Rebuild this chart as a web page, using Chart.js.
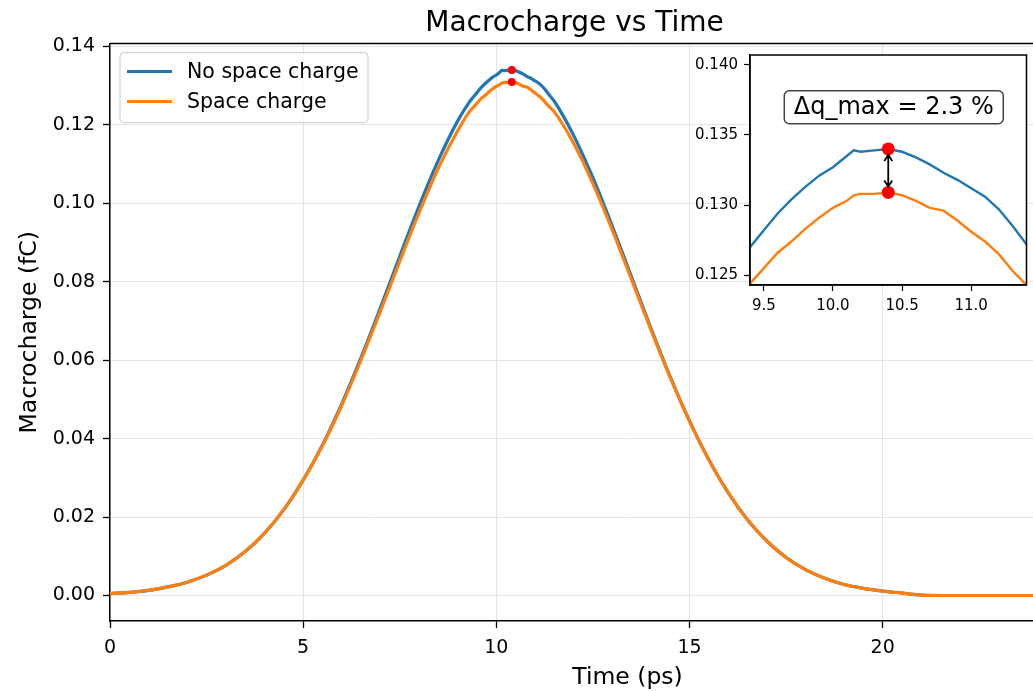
<!DOCTYPE html>
<html><head><meta charset="utf-8">
<script src="https://cdn.jsdelivr.net/npm/chart.js@4.4.1/dist/chart.umd.min.js"></script>
<style>
html,body{margin:0;padding:0;overflow:hidden;background:#fff;width:1033px;height:691px}
#main{position:absolute;left:0;top:0}
#inset{position:absolute;left:660px;top:40px}
</style></head><body>
<canvas id="main" width="1149" height="691"></canvas>
<canvas id="inset" width="373" height="300"></canvas>
<script>
// ---- data ----
const timePs = [0, 0.5, 1, 1.5, 2, 2.5, 3, 3.5, 4, 4.5, 5, 5.5, 6, 6.5, 7, 7.5, 8, 8.5, 9,
  9.3, 9.4, 9.5, 9.6, 9.7, 9.8, 9.9, 10.0, 10.1, 10.15, 10.2, 10.3, 10.4, 10.5, 10.6, 10.7, 10.8, 10.9, 11.0, 11.1, 11.2, 11.3, 11.4, 11.5,
  12, 12.5, 13, 13.5, 14, 14.5, 15, 15.5, 16, 16.5, 17, 17.5, 18, 18.5, 19, 19.5, 20, 20.5, 21, 21.5, 22, 23, 24];
const qNoSpaceCharge = [0.0005, 0.0008, 0.0013, 0.0022, 0.0034, 0.0052, 0.0077, 0.0112, 0.0159, 0.0219, 0.0294, 0.0384, 0.0489, 0.0607, 0.0734, 0.0865, 0.0993, 0.1110, 0.1210,
  0.1258, 0.1270, 0.1282, 0.1294, 0.1304, 0.1313, 0.1321, 0.1327, 0.1335, 0.1339, 0.1338, 0.1339, 0.1340, 0.1338, 0.1334, 0.1329, 0.1323, 0.1318, 0.1312, 0.1306, 0.1297, 0.1285, 0.1272, 0.1260,
  0.1173, 0.1065, 0.0942, 0.0812, 0.0682, 0.0558, 0.0445, 0.0346, 0.0262, 0.0193, 0.0139, 0.0097, 0.0066, 0.0044, 0.0028, 0.0018, 0.0011, 0.0006, 0.0001, 0, 0, 0, 0];
const qSpaceCharge = [0.0005, 0.0008, 0.0013, 0.0022, 0.0034, 0.0052, 0.0077, 0.0112, 0.0159, 0.0219, 0.0294, 0.0382, 0.0485, 0.0601, 0.0725, 0.0852, 0.0976, 0.1090, 0.1185,
  0.1233, 0.1244, 0.1255, 0.1266, 0.1274, 0.1283, 0.1291, 0.1298, 0.1303, 0.1307, 0.1308, 0.1308, 0.1309, 0.1307, 0.1303, 0.1298, 0.1296, 0.1289, 0.1281, 0.1274, 0.1265, 0.1253, 0.1243, 0.1233,
  0.1153, 0.1050, 0.0932, 0.0805, 0.0678, 0.0556, 0.0444, 0.0346, 0.0262, 0.0193, 0.0139, 0.0097, 0.0066, 0.0044, 0.0028, 0.0018, 0.0011, 0.0006, 0.0001, 0, 0, 0, 0];
const seriesLabels = ['No space charge', 'Space charge'];
const peakTime = [10.4];
const peakNoSpaceCharge = [0.1340];
const peakSpaceCharge = [0.1309];
const mainXTicks = [0, 5, 10, 15, 20, 25];
const mainYTicks = [0, 0.02, 0.04, 0.06, 0.08, 0.10, 0.12, 0.14];
const insetXTicks = [9.5, 10.0, 10.5, 11.0];
const insetYTicks = [0.125, 0.130, 0.135, 0.140];

// ---- styling ----
const BLUE = '#1f77b4', ORANGE = '#ff7f0e', RED = '#ff0000';
const FONT = "'DejaVu Sans', sans-serif";
const pts = (xs, ys) => xs.map((t, i) => ({x: t, y: ys[i]}));
const deltaPct = (peakNoSpaceCharge[0] - peakSpaceCharge[0]) / peakNoSpaceCharge[0] * 100;

const topSpine = {
  id: 'topSpine',
  afterDraw(chart, args, opts) {
    const {ctx, chartArea: a} = chart;
    ctx.save();
    ctx.strokeStyle = '#000';
    ctx.lineWidth = opts.width || 1.5;
    ctx.beginPath();
    ctx.moveTo(a.left, a.top); ctx.lineTo(a.right, a.top);
    ctx.stroke();
    ctx.restore();
  }
};

const boxLegend = {
  id: 'boxLegend',
  afterDraw(chart) {
    const {ctx, chartArea: a} = chart;
    const x0 = a.left + 10, y0 = a.top + 9, w = 248, h = 70;
    ctx.save();
    ctx.beginPath();
    ctx.roundRect(x0, y0, w, h, 4);
    ctx.fillStyle = 'rgba(255,255,255,0.8)';
    ctx.fill();
    ctx.strokeStyle = '#cccccc';
    ctx.lineWidth = 1;
    ctx.stroke();
    const colors = [BLUE, ORANGE];
    ctx.font = "20.5px " + FONT;
    ctx.textBaseline = 'middle';
    ctx.fillStyle = '#000';
    seriesLabels.forEach((lab, i) => {
      const y = y0 + 19 + i * 30;
      ctx.strokeStyle = colors[i];
      ctx.lineWidth = 3;
      ctx.beginPath();
      ctx.moveTo(x0 + 7, y); ctx.lineTo(x0 + 52, y);
      ctx.stroke();
      ctx.fillText(lab, x0 + 67, y + 1);
    });
    ctx.restore();
  }
};

new Chart(document.getElementById('main'), {
  type: 'line',
  data: {
    datasets: [
      {label: 'peaks', data: [{x: peakTime[0], y: peakNoSpaceCharge[0]}, {x: peakTime[0], y: peakSpaceCharge[0]}],
        showLine: false, pointRadius: 4, pointBackgroundColor: RED, pointBorderWidth: 0, order: 1},
      {label: seriesLabels[1], data: pts(timePs, qSpaceCharge), borderColor: ORANGE, borderWidth: 3.2,
        pointRadius: 0, cubicInterpolationMode: 'monotone', order: 2},
      {label: seriesLabels[0], data: pts(timePs, qNoSpaceCharge), borderColor: BLUE, borderWidth: 3.2,
        pointRadius: 0, cubicInterpolationMode: 'monotone', order: 3}
    ]
  },
  options: {
    responsive: false, animation: false, devicePixelRatio: 1,
    layout: {padding: 0},
    plugins: {
      legend: {display: false}, tooltip: {enabled: false},
      title: {display: true, text: 'Macrocharge vs Time', color: '#000',
        font: {family: FONT, size: 28, weight: 'normal', lineHeight: 1.2}, padding: {top: 7, bottom: 3}},
      topSpine: {width: 1.5}
    },
    scales: {
      x: {type: 'linear', min: 0, max: 26.79,
        afterBuildTicks: s => { s.ticks = mainXTicks.map(v => ({value: v})); },
        afterFit: s => { s.height = 70; },
        ticks: {color: '#000', font: {family: FONT, size: 19}, padding: 9, maxRotation: 0, callback: v => String(v)},
        grid: {color: '#e4e4e4', lineWidth: 1, tickColor: '#000', tickLength: 7, tickWidth: 1.3},
        border: {display: true, color: '#000', width: 1.5},
        title: {display: true, text: 'Time (ps)', color: '#000', font: {family: FONT, size: 23.5}, padding: {top: 0, bottom: -1}}
      },
      y: {type: 'linear', min: -0.0065, max: 0.1407,
        afterBuildTicks: s => { s.ticks = mainYTicks.map(v => ({value: v})); },
        afterFit: s => { s.width = 110; },
        ticks: {color: '#000', font: {family: FONT, size: 19}, padding: 8, callback: v => v.toFixed(2)},
        grid: {color: '#e4e4e4', lineWidth: 1, tickColor: '#000', tickLength: 7, tickWidth: 1.3},
        border: {display: true, color: '#000', width: 1.5},
        title: {display: true, text: 'Macrocharge (fC)', color: '#000', font: {family: FONT, size: 23.5}, padding: {top: 16, bottom: 0}}
      }
    }
  },
  plugins: [topSpine, boxLegend]
});

const insetDecor = {
  id: 'insetDecor',
  beforeDraw(chart) {
    const {ctx, chartArea: a} = chart;
    ctx.save();
    ctx.fillStyle = '#fff';
    ctx.fillRect(a.left, a.top, a.right - a.left, a.bottom - a.top);
    ctx.restore();
  },
  afterDatasetsDraw(chart) {
    const {ctx, scales: {x, y}} = chart;
    const px = x.getPixelForValue(peakTime[0]);
    const y1 = y.getPixelForValue(peakNoSpaceCharge[0]) + 6;
    const y2 = y.getPixelForValue(peakSpaceCharge[0]) - 6;
    ctx.save();
    ctx.strokeStyle = '#000';
    ctx.lineWidth = 1.8;
    ctx.beginPath();
    ctx.moveTo(px, y1); ctx.lineTo(px, y2);
    ctx.moveTo(px - 4, y1 + 6); ctx.lineTo(px, y1); ctx.lineTo(px + 4, y1 + 6);
    ctx.moveTo(px - 4, y2 - 6); ctx.lineTo(px, y2); ctx.lineTo(px + 4, y2 - 6);
    ctx.stroke();
    ctx.restore();
  },
  afterDraw(chart) {
    const {ctx, chartArea: a} = chart;
    const cx = a.left + 0.52 * (a.right - a.left);
    const cy = a.bottom - 0.773 * (a.bottom - a.top);
    const w = 219, h = 33;
    ctx.save();
    ctx.beginPath();
    ctx.roundRect(cx - w / 2, cy - h / 2, w, h, 5);
    ctx.fillStyle = 'rgba(255,255,255,0.9)';
    ctx.fill();
    ctx.strokeStyle = '#444';
    ctx.lineWidth = 1.5;
    ctx.stroke();
    ctx.fillStyle = '#000';
    ctx.font = "24px " + FONT;
    ctx.textAlign = 'center';
    ctx.textBaseline = 'middle';
    ctx.fillText('Δq_max = ' + deltaPct.toFixed(1) + ' %', cx, cy + 1);
    ctx.strokeStyle = '#000';
    ctx.lineWidth = 1.5;
    ctx.strokeRect(a.left, a.top, a.right - a.left, a.bottom - a.top);
    ctx.restore();
  }
};

new Chart(document.getElementById('inset'), {
  type: 'line',
  data: {
    datasets: [
      {label: 'peaks', data: [{x: peakTime[0], y: peakNoSpaceCharge[0]}, {x: peakTime[0], y: peakSpaceCharge[0]}],
        showLine: false, pointRadius: 6.5, pointBackgroundColor: RED, pointBorderWidth: 0, order: 1},
      {label: seriesLabels[1], data: pts(timePs, qSpaceCharge), borderColor: ORANGE, borderWidth: 2.4,
        pointRadius: 0, tension: 0, clip: 0, order: 2},
      {label: seriesLabels[0], data: pts(timePs, qNoSpaceCharge), borderColor: BLUE, borderWidth: 2.4,
        pointRadius: 0, tension: 0, clip: 0, order: 3}
    ]
  },
  options: {
    responsive: false, animation: false, devicePixelRatio: 1,
    layout: {padding: {top: 14, right: 4}},
    plugins: {legend: {display: false}, tooltip: {enabled: false}},
    scales: {
      x: {type: 'linear', min: 9.4, max: 11.4,
        afterBuildTicks: s => { s.ticks = insetXTicks.map(v => ({value: v})); },
        afterFit: s => { s.height = 55; },
        ticks: {color: '#000', font: {family: FONT, size: 15}, padding: 6, maxRotation: 0, callback: v => v.toFixed(1)},
        grid: {drawOnChartArea: false, tickColor: '#000', tickLength: 6, tickWidth: 1.2},
        border: {display: true, color: '#000', width: 1.5}
      },
      y: {type: 'linear', min: 0.1243, max: 0.1407,
        afterBuildTicks: s => { s.ticks = insetYTicks.map(v => ({value: v})); },
        afterFit: s => { s.width = 90; },
        ticks: {color: '#000', font: {family: FONT, size: 15}, padding: 6, callback: v => v.toFixed(3)},
        grid: {drawOnChartArea: false, tickColor: '#000', tickLength: 6, tickWidth: 1.2},
        border: {display: true, color: '#000', width: 1.5}
      }
    }
  },
  plugins: [insetDecor]
});
</script>
</body></html>
